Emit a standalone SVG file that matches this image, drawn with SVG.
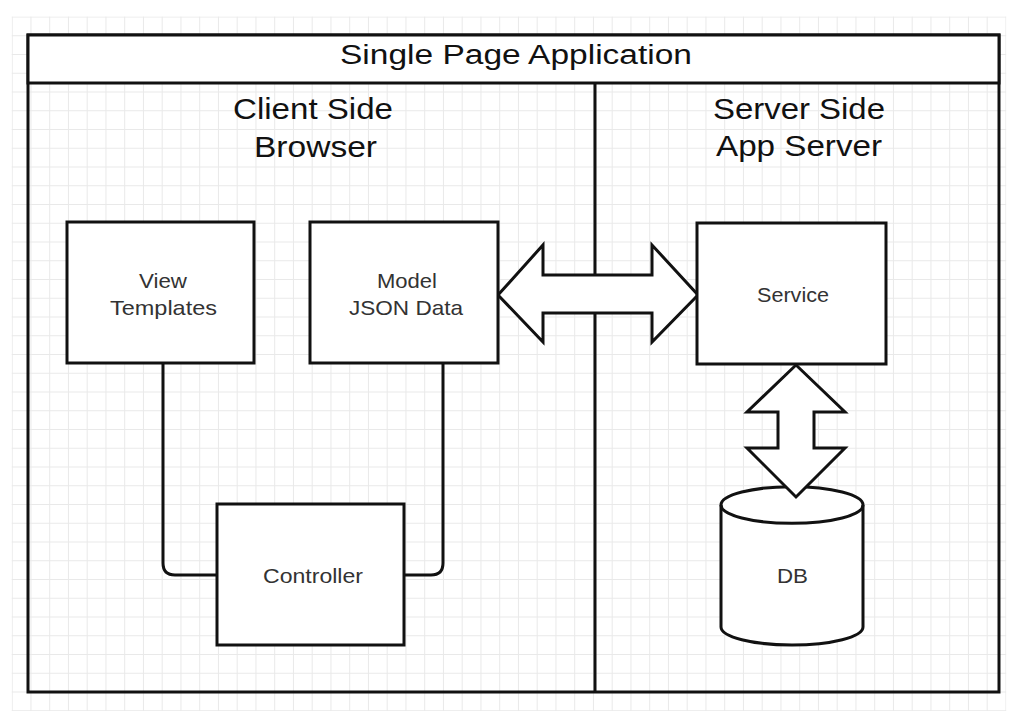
<svg xmlns="http://www.w3.org/2000/svg" width="1022" height="725" viewBox="0 0 1022 725">
  <style>
    .box { fill: #ffffff; stroke: #111111; stroke-width: 3; }
    .frame { fill: none; stroke: #111111; stroke-width: 3; }
    .conn { fill: none; stroke: #111111; stroke-width: 3; }
    .big { fill: #ffffff; stroke: #111111; stroke-width: 3; stroke-linejoin: miter; }
    .hdr { font-family: "Liberation Sans", Arial, sans-serif; fill: #111111; text-anchor: middle; }
    .lbl { font-family: "Liberation Sans", Arial, sans-serif; fill: #333333; text-anchor: middle; font-size: 21px; }
  </style>
  <defs>
    <pattern id="grid" patternUnits="userSpaceOnUse" x="11.7" y="16.5" width="18.75" height="18.75">
      <path d="M0.5 0 V18.75 M0 0.5 H18.75" fill="none" stroke="#e9e9e9" stroke-width="1"/>
    </pattern>
  </defs>
  <rect x="0" y="0" width="1022" height="725" fill="#ffffff"/>
  <rect x="11.7" y="16.5" width="994.5" height="694.5" fill="url(#grid)"/>

  <g id="container">
    <rect class="frame" x="28" y="35" width="971" height="657"/>
    <rect class="box" x="28" y="35" width="971" height="48"/>
    <line class="frame" x1="595" y1="83" x2="595" y2="692"/>
    <text class="hdr" x="516" y="64" font-size="27" textLength="352" lengthAdjust="spacingAndGlyphs">Single Page Application</text>
  </g>

  <g id="client-side-label">
    <text class="hdr" x="313" y="119" font-size="30" textLength="160" lengthAdjust="spacingAndGlyphs">Client Side</text>
    <text class="hdr" x="315.5" y="157" font-size="30" textLength="123" lengthAdjust="spacingAndGlyphs">Browser</text>
  </g>
  <g id="server-side-label">
    <text class="hdr" x="799" y="119" font-size="30" textLength="172" lengthAdjust="spacingAndGlyphs">Server Side</text>
    <text class="hdr" x="799" y="156" font-size="30" textLength="166" lengthAdjust="spacingAndGlyphs">App Server</text>
  </g>

  <g id="connectors">
    <path class="conn" d="M163 363 V563 Q163 575 175 575 H217"/>
    <path class="conn" d="M443 363 V563 Q443 575 431 575 H404"/>
    <polygon class="big" points="498,295 543,245 543,275 652,275 652,245 698,295 652,342 652,313 543,313 543,342"/>
  </g>

  <g id="view-templates">
    <rect class="box" x="67" y="222" width="187" height="141"/>
    <text class="lbl" x="163" y="288" textLength="48" lengthAdjust="spacingAndGlyphs">View</text>
    <text class="lbl" x="163.5" y="315" textLength="107" lengthAdjust="spacingAndGlyphs">Templates</text>
  </g>

  <g id="model">
    <rect class="box" x="310" y="222" width="188" height="141"/>
    <text class="lbl" x="407" y="288" textLength="60" lengthAdjust="spacingAndGlyphs">Model</text>
    <text class="lbl" x="406" y="315" textLength="114" lengthAdjust="spacingAndGlyphs">JSON Data</text>
  </g>

  <g id="controller">
    <rect class="box" x="217" y="504" width="187" height="141"/>
    <text class="lbl" x="313" y="583" textLength="100" lengthAdjust="spacingAndGlyphs">Controller</text>
  </g>

  <g id="service">
    <rect class="box" x="697" y="223" width="189" height="141"/>
    <text class="lbl" x="793" y="302" textLength="72" lengthAdjust="spacingAndGlyphs">Service</text>
  </g>

  <g id="db">
    <path class="box" d="M721 505 A71 18.3 0 0 1 863 505 V627 A71 18 0 0 1 721 627 Z"/>
    <path class="conn" d="M721 505 A71 18.3 0 0 0 863 505"/>
    <text class="lbl" x="792.5" y="583" textLength="31" lengthAdjust="spacingAndGlyphs">DB</text>
  </g>

  <g id="service-db-arrow">
    <polygon class="big" points="796,365 845,412 814,412 814,448 845,448 796,497 747,448 778,448 778,412 747,412"/>
  </g>
</svg>
